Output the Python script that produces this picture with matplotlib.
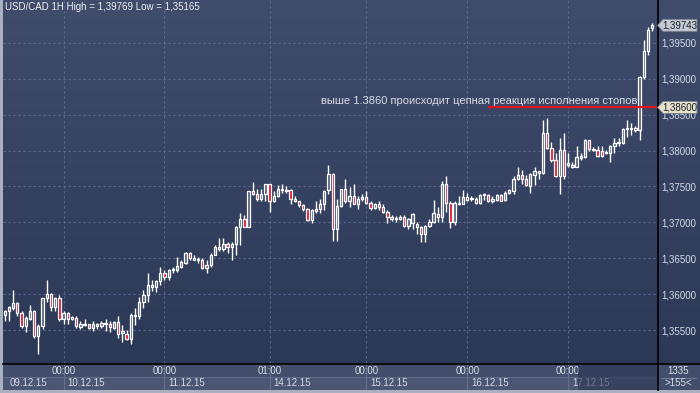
import numpy as np
import matplotlib
matplotlib.use('Agg')
import matplotlib.pyplot as plt
from matplotlib.patches import Rectangle, Polygon

W, H = 700, 393

opens = [
    1.3571, 1.3576, 1.3580, 1.3587, 1.3573, 1.3555, 1.3566, 1.3576, 1.3541, 1.3555,
    1.3594, 1.3600, 1.3582, 1.3594, 1.3565, 1.3573, 1.3565, 1.3567, 1.3554, 1.3557,
    1.3558, 1.3553, 1.3556, 1.3555, 1.3558, 1.3558, 1.3553, 1.3561, 1.3546, 1.3544,
    1.3538, 1.3570, 1.3569, 1.3589, 1.3599, 1.3610, 1.3610, 1.3618, 1.3630, 1.3624,
    1.3634, 1.3633, 1.3638, 1.3644, 1.3657, 1.3648, 1.3647, 1.3648, 1.3637, 1.3641,
    1.3655, 1.3663, 1.3663, 1.3670, 1.3666, 1.3670, 1.3694, 1.3704, 1.3694, 1.3743,
    1.3740, 1.3733, 1.3740, 1.3753, 1.3729, 1.3737, 1.3745, 1.3744, 1.3745, 1.3733,
    1.3729, 1.3724, 1.3718, 1.3703, 1.3716, 1.3718, 1.3726, 1.3745, 1.3767, 1.3690,
    1.3723, 1.3746, 1.3730, 1.3737, 1.3726, 1.3733, 1.3735, 1.3727, 1.3720, 1.3726,
    1.3721, 1.3714, 1.3707, 1.3704, 1.3704, 1.3708, 1.3695, 1.3699, 1.3694, 1.3694,
    1.3684, 1.3695, 1.3700, 1.3712, 1.3707, 1.3753, 1.3727, 1.3701, 1.3725, 1.3725,
    1.3735, 1.3732, 1.3733, 1.3727, 1.3738, 1.3738, 1.3729, 1.3731, 1.3738, 1.3731,
    1.3741, 1.3743, 1.3760, 1.3766, 1.3761, 1.3751, 1.3766, 1.3768, 1.3768, 1.3825,
    1.3803, 1.3787, 1.3764, 1.3801, 1.3780, 1.3777, 1.3777, 1.3790, 1.3791, 1.3814,
    1.3801, 1.3801, 1.3799, 1.3798, 1.3797, 1.3806, 1.3811, 1.3810, 1.3830, 1.3830,
    1.3831, 1.3828, 1.3902, 1.3938, 1.3970,
]
highs = [
    1.3578, 1.3584, 1.3606, 1.3589, 1.3576, 1.3569, 1.3585, 1.3578, 1.3559, 1.3595,
    1.3620, 1.3601, 1.3596, 1.3599, 1.3576, 1.3575, 1.3570, 1.3569, 1.3562, 1.3565,
    1.3559, 1.3562, 1.3560, 1.3562, 1.3565, 1.3562, 1.3563, 1.3570, 1.3557, 1.3550,
    1.3573, 1.3580, 1.3596, 1.3606, 1.3629, 1.3620, 1.3620, 1.3638, 1.3634, 1.3635,
    1.3638, 1.3651, 1.3648, 1.3658, 1.3659, 1.3654, 1.3651, 1.3650, 1.3648, 1.3657,
    1.3668, 1.3678, 1.3678, 1.3673, 1.3673, 1.3695, 1.3713, 1.3710, 1.3744, 1.3756,
    1.3747, 1.3746, 1.3754, 1.3754, 1.3743, 1.3752, 1.3754, 1.3750, 1.3746, 1.3737,
    1.3730, 1.3726, 1.3720, 1.3718, 1.3729, 1.3732, 1.3745, 1.3780, 1.3768, 1.3732,
    1.3747, 1.3760, 1.3749, 1.3753, 1.3736, 1.3740, 1.3744, 1.3729, 1.3727, 1.3729,
    1.3726, 1.3717, 1.3710, 1.3709, 1.3710, 1.3710, 1.3706, 1.3713, 1.3701, 1.3695,
    1.3696, 1.3704, 1.3731, 1.3722, 1.3758, 1.3765, 1.3729, 1.3730, 1.3737, 1.3745,
    1.3741, 1.3736, 1.3735, 1.3740, 1.3741, 1.3739, 1.3736, 1.3740, 1.3739, 1.3743,
    1.3747, 1.3764, 1.3777, 1.3773, 1.3766, 1.3769, 1.3777, 1.3772, 1.3842, 1.3845,
    1.3812, 1.3796, 1.3817, 1.3824, 1.3796, 1.3784, 1.3806, 1.3796, 1.3816, 1.3815,
    1.3805, 1.3806, 1.3806, 1.3801, 1.3808, 1.3817, 1.3818, 1.3831, 1.3842, 1.3838,
    1.3834, 1.3904, 1.3954, 1.3972, 1.39769,
]
lows = [
    1.3563, 1.3563, 1.3578, 1.3569, 1.3553, 1.3547, 1.3564, 1.3539, 1.35165, 1.3552,
    1.3589, 1.3576, 1.3576, 1.3562, 1.3559, 1.3559, 1.3564, 1.3553, 1.3552, 1.3555,
    1.3551, 1.3549, 1.3552, 1.3553, 1.3549, 1.3547, 1.3552, 1.3539, 1.3533, 1.3536,
    1.3531, 1.3557, 1.3566, 1.3580, 1.3589, 1.3604, 1.3603, 1.3613, 1.3620, 1.3620,
    1.3629, 1.3631, 1.3636, 1.3642, 1.3647, 1.3647, 1.3644, 1.3635, 1.3630, 1.3638,
    1.3654, 1.3660, 1.3660, 1.3657, 1.3648, 1.3654, 1.3668, 1.3693, 1.3693, 1.3738,
    1.3730, 1.3729, 1.3730, 1.3714, 1.3728, 1.3735, 1.3741, 1.3741, 1.3726, 1.3728,
    1.3722, 1.3716, 1.3702, 1.3699, 1.3713, 1.3713, 1.3717, 1.3740, 1.3674, 1.3674,
    1.3721, 1.3727, 1.3722, 1.3725, 1.3719, 1.3729, 1.3725, 1.3717, 1.3718, 1.3717,
    1.3713, 1.3699, 1.3702, 1.3701, 1.3703, 1.3694, 1.3690, 1.3690, 1.3684, 1.3672,
    1.3672, 1.3694, 1.3699, 1.3701, 1.3701, 1.3715, 1.3692, 1.3696, 1.3724, 1.3725,
    1.3729, 1.3730, 1.3726, 1.3726, 1.3731, 1.3728, 1.3727, 1.3730, 1.3729, 1.3730,
    1.3740, 1.3740, 1.3759, 1.3754, 1.3750, 1.3741, 1.3752, 1.3761, 1.3767, 1.3802,
    1.3784, 1.3763, 1.3740, 1.3761, 1.3777, 1.3776, 1.3777, 1.3787, 1.3789, 1.3800,
    1.3799, 1.3791, 1.3791, 1.3795, 1.3784, 1.3796, 1.3806, 1.3809, 1.3819, 1.3822,
    1.3826, 1.3814, 1.3900, 1.3933, 1.3967,
]
closes = [
    1.3576, 1.3582, 1.3587, 1.3573, 1.3555, 1.3567, 1.3576, 1.3541, 1.3556, 1.3594,
    1.3600, 1.3582, 1.3594, 1.3565, 1.3573, 1.3565, 1.3568, 1.3555, 1.3558, 1.3558,
    1.3553, 1.3558, 1.3558, 1.3560, 1.3559, 1.3554, 1.3561, 1.3544, 1.3548, 1.3538,
    1.3571, 1.3571, 1.3589, 1.3599, 1.3613, 1.3613, 1.3618, 1.3630, 1.3624, 1.3634,
    1.3635, 1.3639, 1.3645, 1.3657, 1.3650, 1.3650, 1.3649, 1.3637, 1.3641, 1.3655,
    1.3665, 1.3665, 1.3670, 1.3666, 1.3670, 1.3694, 1.3704, 1.3694, 1.3743, 1.3739,
    1.3733, 1.3740, 1.3753, 1.3730, 1.3737, 1.3747, 1.3747, 1.3745, 1.3733, 1.3730,
    1.3724, 1.3718, 1.3703, 1.3717, 1.3718, 1.3726, 1.3744, 1.3767, 1.3690, 1.3723,
    1.3746, 1.3730, 1.3737, 1.3726, 1.3733, 1.3735, 1.3727, 1.3720, 1.3726, 1.3721,
    1.3714, 1.3707, 1.3704, 1.3706, 1.3708, 1.3695, 1.3704, 1.3712, 1.3698, 1.3684,
    1.3695, 1.3701, 1.3713, 1.3707, 1.3753, 1.3727, 1.3701, 1.3727, 1.3727, 1.3735,
    1.3731, 1.3733, 1.3727, 1.3738, 1.3739, 1.3729, 1.3733, 1.3738, 1.3730, 1.3741,
    1.3745, 1.3761, 1.3766, 1.3760, 1.3752, 1.3767, 1.3771, 1.3771, 1.3825, 1.3803,
    1.3787, 1.3764, 1.3801, 1.3764, 1.3782, 1.3780, 1.3791, 1.3792, 1.3814, 1.3802,
    1.3802, 1.3792, 1.3792, 1.3796, 1.3806, 1.3811, 1.3812, 1.3830, 1.3831, 1.3831,
    1.3828, 1.3902, 1.3938, 1.3968, 1.39743,
]

price_ticks = [1.355, 1.360, 1.365, 1.370, 1.375, 1.380, 1.385, 1.390, 1.395]
price_labels = ['1,35500', '1,36000', '1,36500', '1,37000', '1,37500',
                '1,38000', '1,38500', '1,39000', '1,39500']
time_grid_idx = [14, 38, 63, 86, 110, 134]
time_labels = ['00:00', '00:00', '01:00', '00:00', '00:00', '00:00']
date_labels = ['09.12.15', '10.12.15', '11.12.15', '14.12.15', '15.12.15', '16.12.15', '17.12.15']
last_price = 1.39743
last_label = '1,39743'
level_price = 1.3860
level_label = '1,38600'
title = 'USD/CAD 1H High = 1,39769 Low = 1,35165'
note = 'выше 1.3860 происходит цепная реакция исполнения стопов'
bars_total = '1335'
bars_visible = '>155<'

plt.rcParams['font.family'] = ['Liberation Sans', 'DejaVu Sans']

fig = plt.figure(figsize=(W / 100, H / 100), dpi=100)

# background (pixel coordinates, y downward)
bg = fig.add_axes([0, 0, 1, 1])
bg.set_xlim(0, W)
bg.set_ylim(H, 0)
bg.axis('off')
grad = np.linspace(0, 1, 256).reshape(-1, 1)
top_c = np.array([0x40, 0x4c, 0x6c]) / 255
bot_c = np.array([0x2b, 0x38, 0x56]) / 255
img = top_c[None, None, :] * (1 - grad[:, :, None]) + bot_c[None, None, :] * grad[:, :, None]
bg.imshow(img, extent=[0, W, 363, 0], aspect='auto', zorder=0)

# bottom time panel
bg.add_patch(Rectangle((3, 363), W - 3, 27, fc='#424e6b', ec='none', zorder=1))
bg.add_patch(Rectangle((3, 377), 654, 13, fc='#4a5673', ec='none', zorder=1))
bg.plot([3, 657], [377, 377], color='#5e6a86', lw=0.8, zorder=2)
bg.plot([661, 696], [377.5, 377.5], color='#6c7892', lw=0.8, zorder=2)
# borders
bg.add_patch(Rectangle((0, 0), 3, H, fc='#a9b1c1', ec='none', zorder=5))
bg.add_patch(Rectangle((0, 390), W, 3, fc='#a9b1c1', ec='none', zorder=5))

ax = fig.add_axes([3 / W, (H - 363) / H, 654 / W, 363 / H])
ax.set_facecolor('none')
sp = 4.205
ax.set_xlim((3 - 4.7) / sp, (657 - 4.7) / sp)
y_top = 1.355 + 330 / 7180
y_bot = 1.355 - 33 / 7180
ax.set_ylim(y_bot, y_top)
for s in ['left', 'top', 'bottom', 'right']:
    ax.spines[s].set_visible(False)

ax.yaxis.tick_right()
ax.set_yticks(price_ticks)
ax.set_yticklabels(price_labels)
ax.tick_params(axis='y', length=0, pad=3, labelsize=7, labelcolor='#d6dbe6')
ax.set_xticks(time_grid_idx)
ax.set_xticklabels([])
ax.tick_params(axis='x', length=0)
ax.grid(True, color='#65729a', linestyle=(0, (2, 2.5)), lw=0.8, alpha=0.8)
ax.set_axisbelow(True)

x = np.arange(len(opens))
o = np.array(opens); h = np.array(highs); l = np.array(lows); c = np.array(closes)
up = c >= o
ax.vlines(x, l, h, color='white', lw=1.0, zorder=3)
bottoms = np.minimum(o, c)
heights = np.maximum(np.abs(c - o), 0.00012)
ax.bar(x[up], heights[up], bottom=bottoms[up], width=0.55, facecolor='#56627e',
       edgecolor='white', lw=0.9, zorder=4)
ax.bar(x[~up], heights[~up], bottom=bottoms[~up], width=0.55, facecolor='#e8102a',
       edgecolor='white', lw=0.9, zorder=4)

# red level line
ax.hlines(level_price, (488 - 4.7) / sp, (657 - 4.7) / sp, color='#e0121e', lw=1.6, zorder=5)

# separators
bg.plot([3, W], [363.5, 363.5], color='black', lw=1.2, zorder=6)
bg.plot([657.5, 657.5], [0, 390], color='black', lw=1.2, zorder=6)

# time labels
def px(idx):
    return 4.7 + idx * sp

for idx, lab in zip(time_grid_idx, time_labels):
    xp = px(idx)
    bg.text(xp, 370.5, lab, color='#d6dbe6', fontsize=7, ha='center', va='center', zorder=7)
    bg.plot([xp, xp], [364, 390], color='#65718c', lw=0.8, zorder=2)
date_x = [10] + [px(i) + 4 for i in time_grid_idx]
for xp, lab in zip(date_x, date_labels):
    bg.text(xp, 383.5, lab, color='#d6dbe6', fontsize=7, ha='left', va='center', zorder=7)
# scroll shade
bg.add_patch(Rectangle((578, 364.5), 79, 25.5, fc='#2a3653', ec='none', alpha=0.6, zorder=8))
bg.text(678, 370.5, bars_total, color='#d6dbe6', fontsize=7, ha='center', va='center', zorder=7)
bg.text(678, 383.5, bars_visible, color='#d6dbe6', fontsize=7, ha='center', va='center', zorder=7)

# overlay for price tags and text
ov = fig.add_axes([0, 0, 1, 1], zorder=10)
ov.set_xlim(0, W)
ov.set_ylim(H, 0)
ov.axis('off')
fig.canvas.draw()

def ypix(p):
    return H - ax.transData.transform((0, p))[1]

for p, lab, fc in [(last_price, last_label, '#c4c8d0'), (level_price, level_label, '#e4e1c8')]:
    yp = ypix(p)
    poly = Polygon([(657.5, yp), (663, yp - 6), (697, yp - 6), (697, yp + 6), (663, yp + 6)],
                   closed=True, fc=fc, ec='#7a8090', lw=0.6)
    ov.add_patch(poly)
    ov.text(680, yp + 0.3, lab, color='#1b2030', fontsize=7, ha='center', va='center')

ov.text(5, 7, title, color='#eef0f5', fontsize=7, ha='left', va='center')
ov.text(637, 101, note, color='#d8dce6', fontsize=8, ha='right', va='center')

fig.savefig('out.png', dpi=100)
